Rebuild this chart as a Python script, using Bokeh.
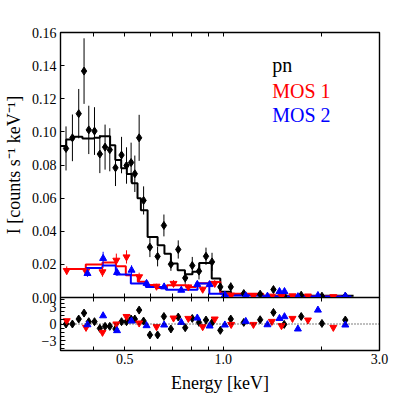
from bokeh.plotting import figure
from bokeh.models import (LogAxis, LinearAxis, FixedTicker, PrintfTickFormatter,
                          Span, Label, Range1d, ColumnDataSource)
from bokeh.layouts import column
from bokeh.embed import file_html
from bokeh.resources import INLINE

FONT = "Liberation Serif"

# ---------------- data ----------------
pn_energy = [0.3306, 0.3458, 0.3615, 0.3753, 0.3880, 0.4039, 0.4194, 0.4351, 0.4498, 0.4682,
             0.4886, 0.5060, 0.5226, 0.5364, 0.5530, 0.5706, 0.5965, 0.6297, 0.6583, 0.6915,
             0.7281, 0.7647, 0.8036, 0.8426, 0.8851, 0.9234, 0.9790, 1.0536, 1.1548, 1.2956,
             1.4227, 1.5345, 1.7294, 2.0012, 2.3587]
pn_rate = [0.0900, 0.0964, 0.1110, 0.1367, 0.1012, 0.1005, 0.0866, 0.0908, 0.0892, 0.0783,
           0.0860, 0.0797, 0.0815, 0.0747, 0.0964, 0.0586, 0.0304, 0.0248, 0.0435, 0.0201,
           0.0290, 0.0118, 0.0193, 0.0159, 0.0249, 0.0215, 0.0064, 0.0064, 0.0024, 0.0020,
           0.0048, 0.0010, 0.0014, 0.0008, 0.0008]
pn_err = [0.0133, 0.0141, 0.0149, 0.0198, 0.0146, 0.0144, 0.0115, 0.0136, 0.0130, 0.0110,
          0.0110, 0.0110, 0.0120, 0.0110, 0.0139, 0.0085, 0.0060, 0.0060, 0.0066, 0.0040,
          0.0055, 0.0035, 0.0052, 0.0050, 0.0052, 0.0055, 0.0025, 0.0027, 0.0015, 0.0015,
          0.0020, 0.0010, 0.0012, 0.0010, 0.0012]
pn_resid = [0.00, 0.00, 0.90, 1.98, 0.42, 0.42, -0.79, -0.43, -0.43, -0.90,
            0.42, 0.42, 0.90, 0.90, 2.52, 0.54, -1.98, -1.98, 1.36, -0.90,
            1.26, -0.67, 1.01, 0.29, 0.72, 0.24, -1.15, 0.90, 0.29, 0.77,
            2.09, -0.07, 1.36, 0.10, 0.72]

mos1_energy = [0.3322, 0.3806, 0.4273, 0.4710, 0.5060, 0.5530, 0.6249, 0.7042, 0.7817, 0.8648,
               0.9412, 1.0565, 1.2357, 1.4068, 1.5055, 1.6264, 1.8132, 2.1677]
mos1_rate = [0.0163, 0.0158, 0.0155, 0.0225, 0.0245, 0.0125, 0.0068, 0.0085, 0.0064, 0.0050,
             0.0085, 0.0014, 0.0010, 0.0008, 0.0006, 0.0010, 0.0009, 0.0005]
mos1_err = [0.0025, 0.0020, 0.0030, 0.0040, 0.0040, 0.0025, 0.0015, 0.0020, 0.0015, 0.0015,
            0.0020, 0.0010, 0.0008, 0.0008, 0.0008, 0.0008, 0.0008, 0.0008]
mos1_resid = [0.59, -0.61, -1.51, 0.00, 1.36, 0.18, -0.49, 1.08, 1.01, -0.49,
              0.90, -0.08, -0.08, 0.47, -0.30, 1.01, 0.72, -0.61]

mos2_energy = [0.3844, 0.4292, 0.4733, 0.5242, 0.5826, 0.6592, 0.7438, 0.8325, 0.9080, 1.0106,
               1.1711, 1.3637, 1.4842, 1.5374, 1.6897, 1.9454, 2.3587]
mos2_rate = [0.0145, 0.0236, 0.0151, 0.0165, 0.0085, 0.0064, 0.0044, 0.0079, 0.0078, 0.0015,
             0.0010, 0.0008, 0.0036, 0.0036, 0.0005, 0.0012, 0.0008]
mos2_err = [0.0020, 0.0040, 0.0020, 0.0030, 0.0015, 0.0012, 0.0010, 0.0015, 0.0015, 0.0010,
            0.0008, 0.0008, 0.0015, 0.0015, 0.0008, 0.0008, 0.0008]
mos2_resid = [-0.13, 1.49, -1.20, 0.54, -0.30, -0.18, 0.29, 1.08, -0.36, -0.18,
              0.47, -0.13, 1.01, 1.32, -0.90, 2.52, -0.18]

# folded models (bin edges and bin values)
pn_model_edges = [0.3184, 0.3311, 0.3482, 0.3711, 0.4027, 0.4194, 0.4508, 0.4676, 0.4873, 0.5071,
                  0.5253, 0.5467, 0.5598, 0.5869, 0.6297, 0.6607, 0.6915, 0.7250, 0.7632, 0.8048,
                  0.8443, 0.9215, 0.9790, 1.0558, 1.3232, 2.5000]
pn_model = [0.0914, 0.0954, 0.0970, 0.0960, 0.0965, 0.0974, 0.0920, 0.0830, 0.0780, 0.0745,
            0.0690, 0.0600, 0.0527, 0.0366, 0.0316, 0.0264, 0.0205, 0.0165, 0.0141, 0.0155,
            0.0209, 0.0115, 0.0034, 0.0020, 0.0010]
mos1_model_edges = [0.3279, 0.3799, 0.4273, 0.4693, 0.5035, 0.5479, 0.5869, 0.6266, 0.6725, 0.7686,
                    0.8249, 0.9041, 0.9790, 1.3232, 2.2930]
mos1_model = [0.0172, 0.0199, 0.0212, 0.0189, 0.0135, 0.0095, 0.0075, 0.0058, 0.0074, 0.0064,
              0.0086, 0.0094, 0.0022, 0.0008]
mos2_model_edges = [0.3799, 0.4273, 0.4693, 0.5216, 0.5797, 0.6676, 0.8338, 0.9061, 0.9979, 1.3232,
                    2.4600]
mos2_model = [0.0178, 0.0193, 0.0139, 0.0085, 0.0064, 0.0047, 0.0085, 0.0022, 0.0012, 0.0006]

# axis ticks
x_major_ticks = [0.5, 1.0, 3.0]
x_minor_ticks = [0.4, 0.6, 0.7, 0.8, 0.9, 2.0]
y_ticks = [0.00, 0.02, 0.04, 0.06, 0.08, 0.10, 0.12, 0.14, 0.16]
res_ticks = [-3, 0, 3]
res_minor_ticks = [-4.5, -3.75, -3.0, -2.25, -1.5, -0.75, 0.0, 0.75, 1.5, 2.25, 3.0, 3.75, 4.5]

series = [
    ("pn", "black", "diamond", pn_energy, pn_rate, pn_err, pn_resid, pn_model_edges, pn_model),
    ("MOS 1", "red", "inverted_triangle", mos1_energy, mos1_rate, mos1_err, mos1_resid,
     mos1_model_edges, mos1_model),
    ("MOS 2", "blue", "triangle", mos2_energy, mos2_rate, mos2_err, mos2_resid,
     mos2_model_edges, mos2_model),
]

# ---------------- figures ----------------
xr = Range1d(0.318, 3.0)
LEFT, RIGHT = 60, 12
W = LEFT + 319 + RIGHT


def make_xaxis(show_labels):
    ax = LogAxis(ticker=FixedTicker(ticks=x_major_ticks, minor_ticks=x_minor_ticks),
                 formatter=PrintfTickFormatter(format="%.1f"))
    ax.major_tick_in = 4
    ax.major_tick_out = 0
    ax.minor_tick_in = 4
    ax.minor_tick_out = 0
    ax.major_tick_line_color = "black"
    ax.minor_tick_line_color = "black"
    ax.major_tick_line_width = 1
    ax.minor_tick_line_width = 1
    ax.axis_line_color = None
    if show_labels:
        ax.major_label_text_font = FONT
        ax.major_label_text_font_size = "14px"
        ax.major_label_text_color = "black"
        ax.major_label_standoff = 3
        ax.axis_label = "Energy [keV]"
        ax.axis_label_text_font = FONT
        ax.axis_label_text_font_size = "18px"
        ax.axis_label_text_font_style = "normal"
        ax.axis_label_text_color = "black"
        ax.axis_label_standoff = 6
    else:
        ax.major_label_text_font_size = "0px"
        ax.major_label_text_color = None
        ax.major_label_standoff = 0
    return ax


top = figure(width=W, height=305, x_axis_type="log", x_range=xr, y_range=Range1d(0, 0.16),
             x_axis_location=None, y_axis_location=None, output_backend="svg",
             toolbar_location=None, min_border_left=LEFT, min_border_right=RIGHT,
             min_border_top=32, min_border_bottom=8)
top.grid.visible = False
top.outline_line_color = "black"
top.outline_line_width = 1.4
top.add_layout(make_xaxis(False), "above")
top.add_layout(make_xaxis(False), "below")

yax = LinearAxis(ticker=FixedTicker(ticks=y_ticks), formatter=PrintfTickFormatter(format="%.2f"))
yax.axis_label = "I [counts s\u207b\u00b9 keV\u207b\u00b9]"
yax.axis_label_text_font = FONT
yax.axis_label_text_font_size = "18px"
yax.axis_label_text_font_style = "normal"
yax.axis_label_text_color = "black"
yax.axis_label_standoff = 5
yax.major_label_text_font = FONT
yax.major_label_text_font_size = "14px"
yax.major_label_text_color = "black"
yax.major_label_standoff = 4
yax.major_tick_in = 4
yax.major_tick_out = 0
yax.minor_tick_line_color = None
yax.axis_line_color = None
top.add_layout(yax, "left")

bot = figure(width=W, height=98, x_axis_type="log", x_range=xr, y_range=Range1d(-4.8, 4.8),
             x_axis_location=None, y_axis_location=None, output_backend="svg",
             toolbar_location=None, min_border_left=LEFT, min_border_right=RIGHT,
             min_border_top=0, min_border_bottom=0, border_fill_color=None,
             background_fill_color="white")
bot.margin = (-8, 0, 0, 0)
bot.grid.visible = False
bot.outline_line_color = "black"
bot.outline_line_width = 1.4
bot.add_layout(make_xaxis(False), "above")
bot.add_layout(make_xaxis(True), "below")

rax = LinearAxis(ticker=FixedTicker(ticks=res_ticks, minor_ticks=res_minor_ticks),
                 formatter=PrintfTickFormatter(format="%d"))
rax.major_label_overrides = {-3: "\u22123"}
rax.major_label_text_font = FONT
rax.major_label_text_font_size = "14px"
rax.major_label_text_color = "black"
rax.major_label_standoff = 4
rax.major_tick_in = 5
rax.major_tick_out = 0
rax.minor_tick_in = 4
rax.minor_tick_out = 0
rax.minor_tick_line_color = "black"
rax.axis_line_color = None
bot.add_layout(rax, "left")

bot.add_layout(Span(location=0, dimension="width", line_color="black",
                    line_dash="1 2", line_width=1.2))

# models first
for name, color, marker, e, r, err, res, edges, model in series:
    top.step(x=edges, y=list(model) + [model[-1]], mode="after", line_color=color,
             line_width=2)

for name, color, marker, e, r, err, res, edges, model in series:
    src = ColumnDataSource(dict(x=e, y=r, lo=[a - b for a, b in zip(r, err)],
                                hi=[a + b for a, b in zip(r, err)], res=res))
    sz = 8 if marker == "diamond" else 7
    top.segment(x0="x", y0="lo", x1="x", y1="hi", source=src, line_color=color,
                line_width=1)
    top.scatter(x="x", y="y", source=src, marker=marker, size=sz,
                fill_color=color, line_color=color)
    bot.scatter(x="x", y="res", source=src, marker=marker, size=sz,
                fill_color=color, line_color=color)

# legend-like coloured texts
for txt, col, yy in [("pn", "black", 0.1403), ("MOS 1", "red", 0.1248), ("MOS 2", "blue", 0.1101)]:
    top.add_layout(Label(x=1.41, y=yy, text=txt, text_color=col, text_font=FONT,
                         text_font_size="20px", text_baseline="alphabetic", text_align="left"))

layout = column(top, bot, spacing=0)
open("out.html", "w").write(file_html(layout, INLINE))
